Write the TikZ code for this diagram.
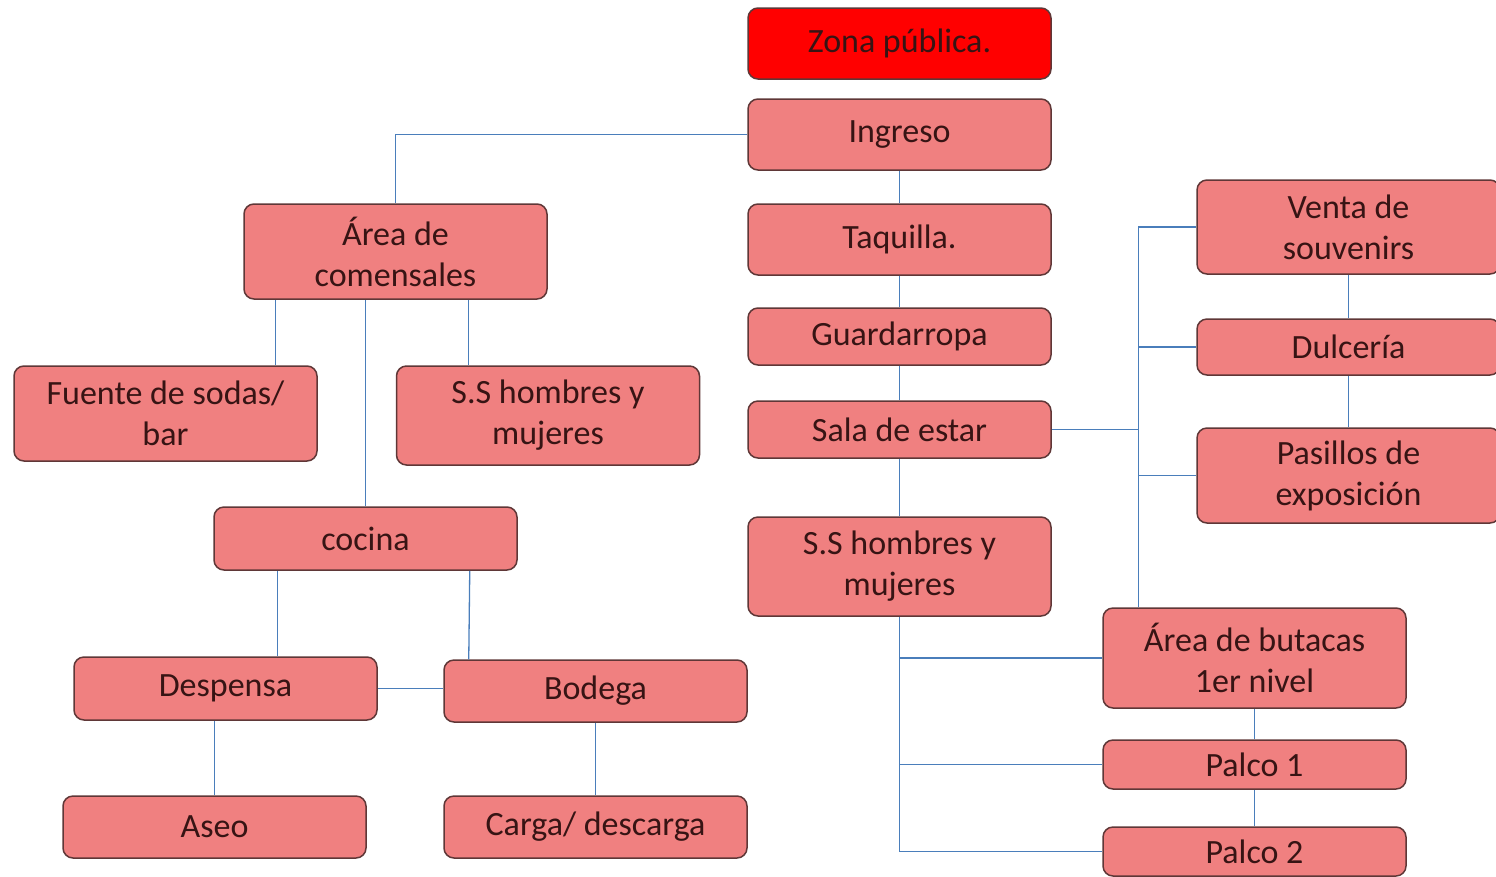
\documentclass[tikz,border=0pt]{standalone}
\usepackage{fontspec}
\setmainfont{Carlito}
\usepackage{tikz}
\usetikzlibrary{positioning}

\definecolor{boxfill}{RGB}{240,128,128}
\definecolor{boxline}{RGB}{95,55,55}
\definecolor{boxtext}{RGB}{55,20,20}
\definecolor{linkblue}{RGB}{74,126,187}

\begin{document}
\begin{tikzpicture}[x=1pt, y=-1pt,
  every node/.style={inner sep=2pt},
  area/.style={draw=boxline, line width=1.5pt, fill=boxfill, rounded corners=10pt,
               minimum width=303pt, align=center, text=boxtext,
               font=\fontsize{34}{41}\selectfont},
  zona/.style={area, fill=red},
  link/.style={draw=linkblue, line width=1.3pt}
]
\clip (0,0) rectangle (1496,876);

% central column
\node[zona, minimum height=71pt] (zona) at (899.5,43.5) {Zona pública.};
\node[area, minimum height=71pt] (ingreso) at (899.5,134.5) {Ingreso};
\node[area, minimum height=71pt] (taquilla) at (899.5,239.5) {Taquilla.};
\node[area, minimum height=57pt] (guardarropa) at (899.5,336.5) {Guardarropa};
\node[area, minimum height=57pt] (sala) at (899.5,429.5) {Sala de estar};
\node[area, minimum height=99pt] (ssc) at (899.5,566.5) {S.S hombres y\\mujeres};

% left branch
\node[area, minimum height=95pt] (comens) at (395.5,251.5) {Área de\\comensales};
\node[area, minimum height=95pt] (fuente) at (165.5,413.5) {Fuente de sodas/\\bar};
\node[area, minimum height=99pt] (ssl) at (548,415.5) {S.S hombres y\\mujeres};
\node[area, minimum height=63pt] (cocina) at (365.5,538.5) {cocina};
\node[area, minimum height=63pt] (despensa) at (225.5,688.5) {Despensa};
\node[area, minimum height=62pt] (bodega) at (595.5,691) {Bodega};
\node[area, minimum height=62pt] (aseo) at (214.5,827) {Aseo};
\node[area, minimum height=62pt] (carga) at (595.5,827) {Carga/ descarga};

% right branch
\node[area, minimum height=94pt] (venta) at (1348.5,227) {Venta de\\souvenirs};
\node[area, minimum height=56pt] (dulceria) at (1348.5,347) {Dulcería};
\node[area, minimum height=95pt] (pasillos) at (1348.5,475.5) {Pasillos de\\exposición};
\node[area, minimum height=100pt] (butacas) at (1254.5,658) {Área de butacas\\1er nivel};
\node[area, minimum height=49pt] (palco1) at (1254.5,764.5) {Palco 1};
\node[area, minimum height=49pt] (palco2) at (1254.5,851.5) {Palco 2};

\coordinate (bus) at ([xshift=36pt]butacas.north west);

% connectors
\draw[link] (ingreso.west) -| (comens.north);
\draw[link] (ingreso) -- (taquilla);
\draw[link] (taquilla) -- (guardarropa);
\draw[link] (guardarropa) -- (sala);
\draw[link] (sala) -- (ssc);

\draw[link] ([xshift=32pt]comens.south west) -- ([xshift=32pt]comens.south west |- fuente.north);
\draw[link] (cocina.north) -- (cocina.north |- comens.south);
\draw[link] ([xshift=-79pt]comens.south east) -- ([xshift=-79pt]comens.south east |- ssl.north);
\draw[link] ([xshift=64pt]cocina.south west) -- ([xshift=64pt]cocina.south west |- despensa.north);
\draw[link] ([xshift=-48pt]cocina.south east) -- ([xshift=-49pt]cocina.south east |- bodega.north);
\draw[link] (despensa.east) -- (despensa.east -| bodega.west);
\draw[link] (aseo.north) -- (aseo.north |- despensa.south);
\draw[link] (bodega) -- (carga);

\draw[link] (sala.east) -- (sala.east -| bus);
\draw[link] (bus) |- (venta.west);
\draw[link] (bus |- dulceria.west) -- (dulceria.west);
\draw[link] (bus |- pasillos.west) -- (pasillos.west);
\draw[link] (venta) -- (dulceria);
\draw[link] (dulceria) -- (pasillos);

\draw[link] (ssc.south) |- (palco2.west);
\draw[link] (ssc.south |- butacas.west) -- (butacas.west);
\draw[link] (ssc.south |- palco1.west) -- (palco1.west);
\draw[link] (butacas) -- (palco1);
\draw[link] (palco1) -- (palco2);
\end{tikzpicture}
\end{document}
